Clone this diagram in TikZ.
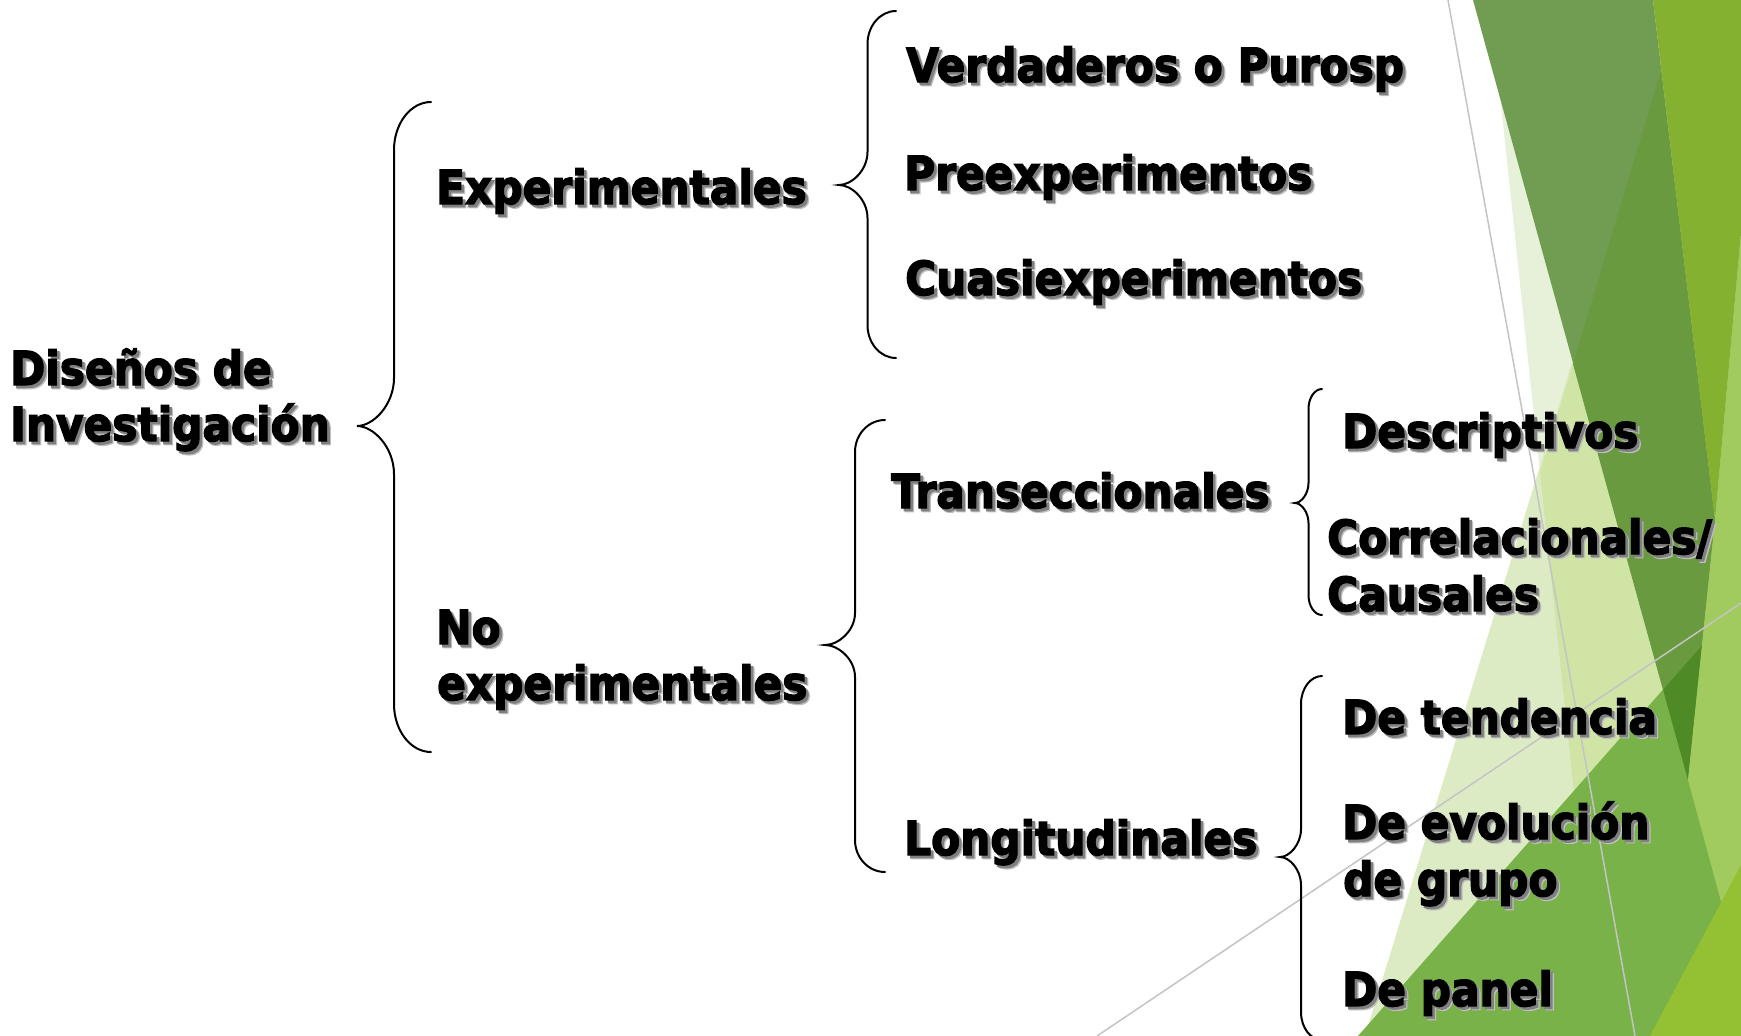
\documentclass[tikz,border=0pt]{standalone}
\usepackage{fontspec}
\newfontfamily\tfont{DejaVu Sans}[FakeStretch=0.9, BoldFeatures={FakeBold=2.8}]
\newcommand\lblfont{\tfont\bfseries\fontsize{47pt}{57pt}\selectfont}
\definecolor{gS}{HTML}{E7F1D9}
\definecolor{gT}{HTML}{DDEBC5}
\definecolor{gST}{HTML}{D0E4A5}
\definecolor{gA}{HTML}{719D52}
\definecolor{gAT}{HTML}{6A9A3F}
\definecolor{gR}{HTML}{84B230}
\definecolor{gP}{HTML}{A1CB5E}
\definecolor{gG}{HTML}{78B248}
\definecolor{gW}{HTML}{4E8B27}
\definecolor{gB}{HTML}{93C133}
\definecolor{linegray}{HTML}{C4C4C4}
\tikzset{
  lbl/.style={anchor=base west, inner sep=0pt, font=\lblfont, text=black},
  bracestyle/.style={draw=black, line width=2pt, line cap=round},
  gline/.style={draw=linegray, line width=1.5pt},
}
% one node per text; the soft drop shadow is typeset inside the same node
\newcommand\shadowed[1]{%
  \makebox[0pt][l]{\kern3.8pt\raisebox{-3.8pt}{\textcolor{black!25}{#1}}}%
  \makebox[0pt][l]{\kern2.6pt\raisebox{-2.6pt}{\textcolor{black!50}{#1}}}%
  #1}
\newcommand\shtext[4]{%
  \node[lbl] (#1) at (#2,-#3) {\shadowed{#4}};
}
\newcommand\bracedraw[8]{%
  \pgfmathsetmacro\bxv{(#2+#3)/2}%
  \pgfmathsetmacro\bxa{\bxv+0.448*(#2-\bxv)}%
  \pgfmathsetmacro\bxb{#3+0.448*(\bxv-#3)}%
  \coordinate (#1-top) at (#2,-#4);
  \coordinate (#1-tip) at (#3,-#5);
  \coordinate (#1-bot) at (#2,-#6);
  \draw[bracestyle] (#1-top) .. controls (\bxa,-#4) and (\bxv,{-#4-0.448*#7}) .. (\bxv,{-#4-#7})
     -- (\bxv,{-#5+#8}) .. controls (\bxv,{-#5+0.448*#8}) and (\bxb,-#5) .. (#1-tip)
     .. controls (\bxb,-#5) and (\bxv,{-#5-0.448*#8}) .. (\bxv,{-#5-#8})
     -- (\bxv,{-#6+#7}) .. controls (\bxv,{-#6+0.448*#7}) and (\bxa,-#6) .. (#1-bot);
}
\begin{document}
\begin{tikzpicture}[x=1pt,y=1pt]
\useasboundingbox (0,0) rectangle (1741,-1036);
\fill[white] (0,0) rectangle (1741,-1036);
% green facets
\fill[gS] (1490,0) -- (1545,-520) -- (1600,-1036) -- (1741,-1036) -- (1741,0) -- cycle;
\fill[gT] (1683,0) -- (1365,-1036) -- (1741,-1036) -- (1741,0) -- cycle;
\fill[gST] (1683,0) -- (1540,-472) -- (1545,-520) -- (1600,-1036) -- (1741,-1036) -- (1741,0) -- cycle;
\fill[gA] (1473,0) -- (1653,0) -- (1715,-520) -- (1688,-780) -- cycle;
\fill[gAT] (1661,-71) -- (1715,-520) -- (1688,-780) -- (1573,-364) -- cycle;
\fill[gG] (1358,-1036) -- (1741,-601) -- (1741,-1036) -- cycle;
\begin{scope}
  \clip (1358,-1036) -- (1741,-601) -- (1741,-1036) -- cycle;
  \fill[gW] (1661,-71) -- (1715,-520) -- (1688,-780) -- (1573,-364) -- cycle;
\end{scope}
\fill[gP] (1741,-233) -- (1715,-520) -- (1688,-780) -- (1741,-975) -- cycle;
\fill[gR] (1653,0) -- (1741,0) -- (1741,-233) -- (1715,-520) -- cycle;
\fill[gB] (1650,-1036) -- (1741,-865) -- (1741,-1036) -- cycle;
\coordinate (l1a) at (1448,0);
\coordinate (l1b) at (1635,-1036);
\coordinate (l2a) at (1097,-1036);
\coordinate (l2b) at (1741,-603);
\draw[gline] (l1a) -- (l1b);
\draw[gline] (l2a) -- (l2b);
% braces
\bracedraw{bA}{431}{357}{102}{426}{752}{48}{48}
\bracedraw{bB}{896}{839}{11}{185}{358}{33}{33}
\bracedraw{bC}{885}{825}{420}{645}{872}{32}{32}
\bracedraw{bD}{1322}{1295}{389}{503}{615}{20}{20}
\bracedraw{bE}{1322}{1280}{676}{857}{1040}{28}{28}
% texts
\shtext{dis1}{10}{385}{Diseños de}
\shtext{dis2}{10}{441}{Investigación}
\shtext{exp}{436}{204}{Experimentales}
\shtext{noexp1}{436}{644}{No}
\shtext{noexp2}{437}{700}{experimentales}
\shtext{ver}{906}{82}{Verdaderos o Purosp}
\shtext{pre}{904}{190}{Preexperimentos}
\shtext{cua}{905}{295}{Cuasiexperimentos}
\shtext{tra}{891}{508}{Transeccionales}
\shtext{lon}{904}{855}{Longitudinales}
\shtext{des}{1342}{448}{Descriptivos}
\shtext{cor1}{1327}{554}{Correlacionales/}
\shtext{cor2}{1327}{611}{Causales}
\shtext{ten}{1342}{734}{De tendencia}
\shtext{evo1}{1342}{839}{De evolución}
\shtext{evo2}{1343}{896}{de grupo}
\shtext{pan}{1342}{1006}{De panel}
\end{tikzpicture}
\end{document}
